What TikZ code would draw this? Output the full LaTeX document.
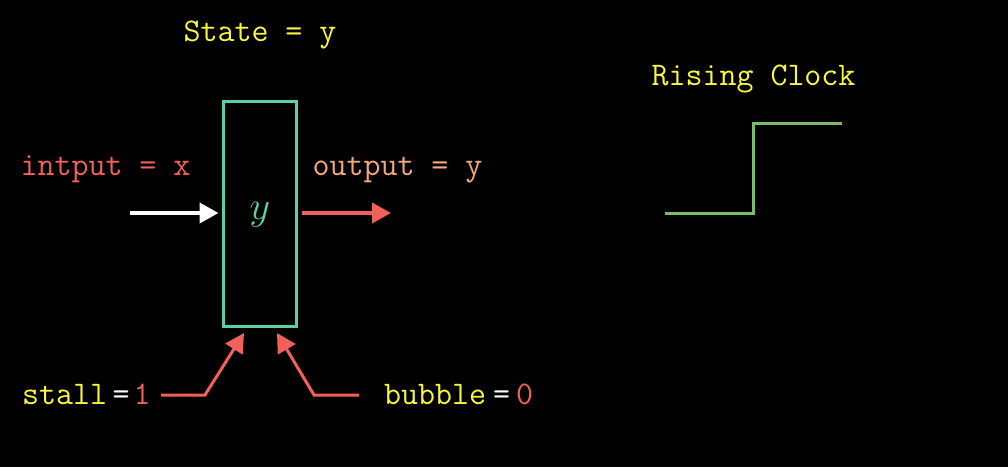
\RequirePackage{fix-cm}
\documentclass[tikz,border=0pt]{standalone}
\usetikzlibrary{arrows.meta}
\definecolor{ylw}{HTML}{F7F73C}
\definecolor{rd}{HTML}{F2605A}
\definecolor{org}{HTML}{F4A878}
\definecolor{teal}{HTML}{5CCFA6}
\definecolor{grn}{HTML}{7CBE68}
\tikzset{
  lbl/.style={inner sep=0pt, anchor=base, font=\fontsize{33}{40}\selectfont\ttfamily},
  tip/.style={-{Triangle[length=19pt,width=20pt]}},
  conn/.style={draw=rd, line width=3pt, tip, line join=miter},
}
\begin{document}
\begin{tikzpicture}[x=1pt,y=-1pt]
\useasboundingbox[fill=black] (0,0) rectangle (1008,467);
% texts
\node[lbl, text=ylw] (state) at (260,41) {State = y};
\node[lbl, text=rd] (inlab) at (105.5,175) {intput = x};
\node[lbl, text=org] (outlab) at (397.5,175) {output = y};
\node[lbl, text=ylw] (clocklab) at (753.5,85) {Rising Clock};
% register box
\node[draw=teal, line width=3pt, minimum width=73pt, minimum height=225pt, inner sep=0pt] (box) at (259.5,213.5) {};
\node[text=teal, inner sep=0pt, anchor=base, font=\fontsize{40}{48}\selectfont] (yv) at (260,219) {$y$};
% input / output arrows
\coordinate (inS) at (130,213);
\coordinate (outE) at (391,213);
\draw[white, line width=4pt, tip] (inS) -- ([xshift=-3pt]box.west |- inS);
\draw[rd, line width=4pt, tip] ([xshift=4pt]box.east |- outE) -- (outE);
% bottom labels
\node[lbl, anchor=base west] (stall) at (22,404) {\textcolor{ylw}{stall}\hspace{5.5pt}\textcolor{white}{=}\hspace{4pt}\textcolor{rd}{1}};
\node[lbl, anchor=base west] (bubble) at (384,404) {\textcolor{ylw}{bubble}\hspace{7pt}\textcolor{white}{=}\hspace{6pt}\textcolor{rd}{0}};
\coordinate (sS) at (161,395);
\coordinate (sK) at (205,395);
\coordinate (sT) at (244,333);
\coordinate (bS) at (359,395);
\coordinate (bK) at (314,395);
\coordinate (bT) at (277,333);
\draw[conn] (sS) -- (sK) -- (sT);
\draw[conn] (bS) -- (bK) -- (bT);
% clock waveform
\draw[grn, line width=3pt] (665,213) -- (753,213) -- (753,123.5) -- (842,123.5);
\end{tikzpicture}
\end{document}
